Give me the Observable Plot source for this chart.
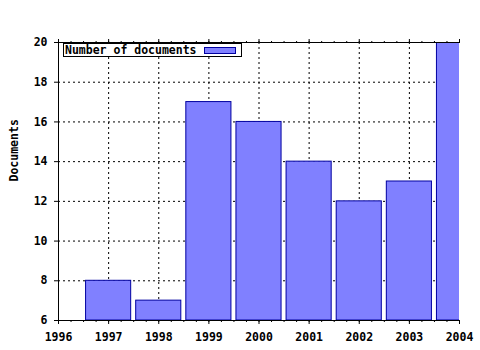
<!DOCTYPE html>
<html>
<head>
<meta charset="utf-8">
<script src="https://cdn.jsdelivr.net/npm/d3@7"></script>
<script src="https://cdn.jsdelivr.net/npm/@observablehq/plot@0.6"></script>
<style>
  html, body { margin: 0; padding: 0; background: #fff; }
  #wrap { position: relative; width: 480px; height: 350px; font-family: "DejaVu Sans Mono", monospace; font-weight: bold; font-size: 11.5px; }
  #legend { position: absolute; left: 63px; top: 43px; width: 177px; height: 12px; border: 1px solid #000; background: #fff; line-height: 12px; }
  #legend span { position: absolute; left: 1px; top: 0; }
  #legend i { position: absolute; left: 140px; top: 3px; width: 30px; height: 5px; background: #8080ff; border: 1px solid #0000a0; }
</style>
</head>
<body>
<div id="wrap"><div id="legend"><span>Number of documents</span><i></i></div></div>
<script>
const years = [1997, 1998, 1999, 2000, 2001, 2002, 2003, 2004];
const documents = [8, 7, 17, 16, 14, 12, 13, 20];
const xTicks = [1996, 1997, 1998, 1999, 2000, 2001, 2002, 2003, 2004];
const yTicks = [6, 8, 10, 12, 14, 16, 18, 20];
const seriesName = "Number of documents";
const yLabel = "Documents";

const data = years.map((y, i) => ({year: y, value: documents[i]}));
const minorTicks = d3.range(1996, 2004.001, 0.25);
const font = "'DejaVu Sans Mono', monospace";

const chart = Plot.plot({
  width: 480,
  height: 350,
  marginLeft: 58,
  marginRight: 21,
  marginTop: 42,
  marginBottom: 30,
  style: {fontFamily: font, fontSize: "11.5px", fontWeight: "bold", background: "#fff", color: "#000"},
  x: {domain: [1996, 2004], label: null},
  y: {domain: [6, 20], label: null},
  marks: [
    Plot.ruleX(xTicks.slice(1, -1), {stroke: "#000", strokeDasharray: "2,3", strokeOpacity: 1}),
    Plot.ruleY(yTicks.slice(1, -1), {stroke: "#000", strokeDasharray: "2,3", strokeOpacity: 1}),
    Plot.rectY(data, {x1: d => d.year - 0.45, x2: d => d.year + 0.45, y1: 6, y2: "value", fill: "#8080ff", stroke: "#0000a0", strokeWidth: 1, clip: true}),
    Plot.ruleY([6], {stroke: "#000"}),
    Plot.ruleY([20], {stroke: "#000"}),
    Plot.ruleX([1996], {stroke: "#000"}),
    Plot.axisX({ticks: xTicks, tickFormat: d => String(d), tickSize: 4, tickPadding: 8, label: null}),
    Plot.axisX({ticks: minorTicks, tickSize: 2, text: null, label: null}),
    Plot.axisX({anchor: "top", ticks: xTicks, tickSize: 4, text: null, label: null}),
    Plot.axisX({anchor: "top", ticks: minorTicks, tickSize: 2, text: null, label: null}),
    Plot.axisY({ticks: yTicks, tickSize: 4, tickPadding: 7, label: null}),
    Plot.text([yLabel], {text: d => d, frameAnchor: "left", dx: -44, rotate: -90, fill: "#000"})
  ]
});
document.getElementById("wrap").prepend(chart);
document.querySelector("#legend span").textContent = seriesName;
</script>
</body>
</html>
